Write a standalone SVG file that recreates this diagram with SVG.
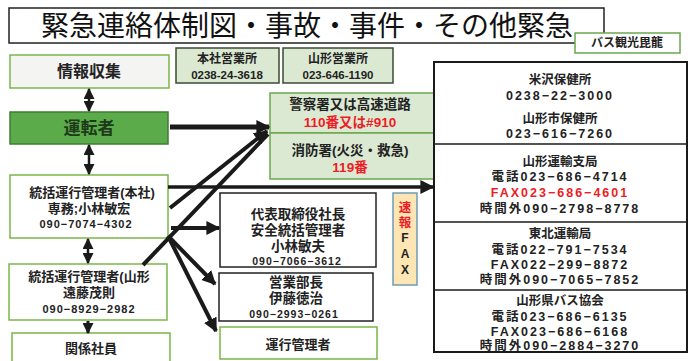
<svg xmlns="http://www.w3.org/2000/svg" width="691" height="361" viewBox="0 0 691 361">
<defs>
<marker id="ah" viewBox="0 0 10 10" refX="9" refY="5" markerWidth="14" markerHeight="14" markerUnits="userSpaceOnUse" orient="auto-start-reverse">
<path d="M0,0 L10,5 L0,10 z" fill="#1a1a1a"/>
</marker>
<marker id="ahs" viewBox="0 0 10 10" refX="9" refY="5" markerWidth="11" markerHeight="11" markerUnits="userSpaceOnUse" orient="auto-start-reverse">
<path d="M0,0 L10,5 L0,10 z" fill="#1a1a1a"/>
</marker>
</defs>
<style>
text{font-family:"Liberation Sans","Noto Sans CJK JP",sans-serif;font-weight:bold;fill:#222;text-anchor:middle}
.t{font-weight:normal;font-size:28px;fill:#111}
.lg{fill:#dbe9d2;stroke:#6aa84f;stroke-width:1.5}
.lgd{fill:#dbe9d2;stroke:#3a4a35;stroke-width:1.5}
.wg{fill:#ffffff;stroke:#7ab648;stroke-width:1.5}
.wk{fill:#ffffff;stroke:#222;stroke-width:1.5}
.red{fill:#ee1c25}
.c{stroke:#1a1a1a;fill:none}
.r{font-size:12.5px}
.p{font-size:12.5px;letter-spacing:2px}
</style>
<rect width="691" height="361" fill="#ffffff"/>

<g id="title">
<rect x="9" y="8" width="595" height="35" class="wk"/>
<text x="307" y="36" class="t">緊急連絡体制図・事故・事件・その他緊急</text>
</g>
<g id="company">
<rect x="575" y="33" width="105" height="20" fill="#fff" stroke="#6aa84f" stroke-width="1.5"/>
<text x="627" y="47" font-size="12">バス観光毘龍</text>
</g>

<g id="joho">
<rect x="10" y="55" width="159" height="33" fill="#f4f4f2" stroke="#7ab648" stroke-width="1.5"/>
<text x="89" y="77" font-size="16">情報収集</text>
</g>
<g id="honsha-eigyo">
<rect x="176" y="48" width="103" height="35" class="lgd"/>
<text x="227" y="63" font-size="12">本社営業所</text>
<text x="227" y="79" font-size="11.5">0238-24-3618</text>
</g>
<g id="yamagata-eigyo">
<rect x="283" y="48" width="110" height="35" class="lgd"/>
<text x="338" y="63" font-size="12">山形営業所</text>
<text x="338" y="79" font-size="11.5">023-646-1190</text>
</g>

<g id="untensha">
<rect x="10" y="112" width="158" height="32" fill="#5bab4b" stroke="#3f7f33" stroke-width="1.5"/>
<text x="89" y="134" font-size="17" style="fill:#1e3a1a">運転者</text>
</g>

<g id="tokatsu-honsha">
<rect x="10" y="175" width="158" height="63" class="wg"/>
<text x="92" y="197" font-size="13">統括運行管理者(本社)</text>
<text x="89" y="213" font-size="13">専務;小林敏宏</text>
<text x="86" y="228" font-size="11" letter-spacing="1">090−7074−4302</text>
</g>

<g id="tokatsu-yamagata">
<rect x="9" y="264" width="158" height="56" class="wg"/>
<text x="89" y="281" font-size="13">統括運行管理者(山形</text>
<text x="89" y="297" font-size="13">遠藤茂則</text>
<text x="89" y="313" font-size="11" letter-spacing="1">090−8929−2982</text>
</g>

<g id="kankei">
<rect x="12" y="333" width="158" height="32" class="wg"/>
<text x="91" y="353" font-size="13">関係社員</text>
</g>

<g id="police">
<rect x="270" y="93" width="165" height="40" class="lg"/>
<text x="350" y="109" font-size="13.5">警察署又は高速道路</text>
<text x="350" y="127" font-size="13.5" class="red">110番又は#910</text>
</g>
<g id="fire">
<rect x="270" y="133" width="165" height="46" class="lg"/>
<text x="350" y="155" font-size="13.5">消防署(火災・救急)</text>
<text x="350" y="172" font-size="13.5" class="red">119番</text>
</g>

<g id="shacho">
<rect x="220" y="193" width="156" height="74" class="wk"/>
<text x="298" y="219" font-size="13.5">代表取締役社長</text>
<text x="298" y="235" font-size="13.5">安全統括管理者</text>
<text x="298" y="251" font-size="13.5">小林敏夫</text>
<text x="297" y="265" font-size="10.5" letter-spacing="1">090−7066−3612</text>
</g>
<g id="eigyobucho">
<rect x="219" y="273" width="154" height="48" class="wk"/>
<text x="296" y="287" font-size="13.5">営業部長</text>
<text x="296" y="303" font-size="13.5">伊藤徳治</text>
<text x="294" y="318" font-size="10.5" letter-spacing="1">090−2993−0261</text>
</g>
<g id="unko">
<rect x="220" y="327" width="157" height="32" class="wg"/>
<text x="298" y="349" font-size="13">運行管理者</text>
</g>

<g id="fax">
<rect x="393" y="193" width="24" height="92" fill="#fde5b4" stroke="#6d9cb8" stroke-width="1.5"/>
<text x="405" y="212" font-size="12.5" class="red">速</text>
<text x="405" y="227" font-size="12.5" class="red">報</text>
<text x="405" y="242" font-size="12">F</text>
<text x="405" y="258" font-size="12">A</text>
<text x="405" y="274" font-size="12">X</text>
</g>

<g id="right">
<rect x="434" y="62" width="253" height="290" fill="#fff" stroke="#1a1a1a" stroke-width="2"/>
<line x1="434" y1="144" x2="687" y2="144" stroke="#1a1a1a" stroke-width="1.5"/>
<line x1="434" y1="222" x2="687" y2="222" stroke="#1a1a1a" stroke-width="1.5"/>
<line x1="434" y1="290" x2="687" y2="290" stroke="#1a1a1a" stroke-width="1.5"/>
<text x="560" y="84" class="r">米沢保健所</text>
<text x="560" y="100" class="p">0238−22−3000</text>
<text x="560" y="123" class="r">山形市保健所</text>
<text x="560" y="138" class="p">023−616−7260</text>
<text x="560" y="166" class="r">山形運輸支局</text>
<text x="560" y="181" class="p">電話023−686−4714</text>
<text x="560" y="197" class="p red">FAX023−686−4601</text>
<text x="560" y="213" class="p">時間外090−2798−8778</text>
<text x="560" y="238" class="r">東北運輸局</text>
<text x="560" y="254" class="p">電話022−791−7534</text>
<text x="560" y="269" class="p">FAX022−299−8872</text>
<text x="560" y="284" class="p">時間外090−7065−7852</text>
<text x="560" y="305" class="r">山形県バス協会</text>
<text x="560" y="321" class="p">電話023−686−6135</text>
<text x="560" y="336" class="p">FAX023−686−6168</text>
<text x="560" y="350" class="p">時間外090−2884−3270</text>
</g>

<g id="connectors">
<line x1="89" y1="89" x2="89" y2="111" class="c" stroke-width="2.5" marker-start="url(#ahs)" marker-end="url(#ahs)"/>
<line x1="89" y1="145" x2="89" y2="174" class="c" stroke-width="2.5" marker-start="url(#ahs)" marker-end="url(#ahs)"/>
<line x1="88" y1="239" x2="88" y2="263" class="c" stroke-width="2.5" marker-start="url(#ahs)" marker-end="url(#ahs)"/>
<line x1="88" y1="321" x2="88" y2="333" class="c" stroke-width="3" marker-end="url(#ahs)"/>
<line x1="170" y1="127" x2="269" y2="127" class="c" stroke-width="5" marker-end="url(#ah)"/>
<line x1="170" y1="208" x2="267" y2="131" class="c" stroke-width="4" marker-end="url(#ah)"/>
<line x1="143" y1="265" x2="268" y2="134" class="c" stroke-width="4"/>
<line x1="168" y1="187" x2="433" y2="187" class="c" stroke-width="3.5" marker-end="url(#ah)"/>
<line x1="171" y1="228" x2="219" y2="228" class="c" stroke-width="4" marker-end="url(#ah)"/>
<line x1="168" y1="236" x2="215" y2="284" class="c" stroke-width="4" marker-end="url(#ah)"/>
<line x1="168" y1="236" x2="216" y2="331" class="c" stroke-width="4" marker-end="url(#ah)"/>
</g>
</svg>
